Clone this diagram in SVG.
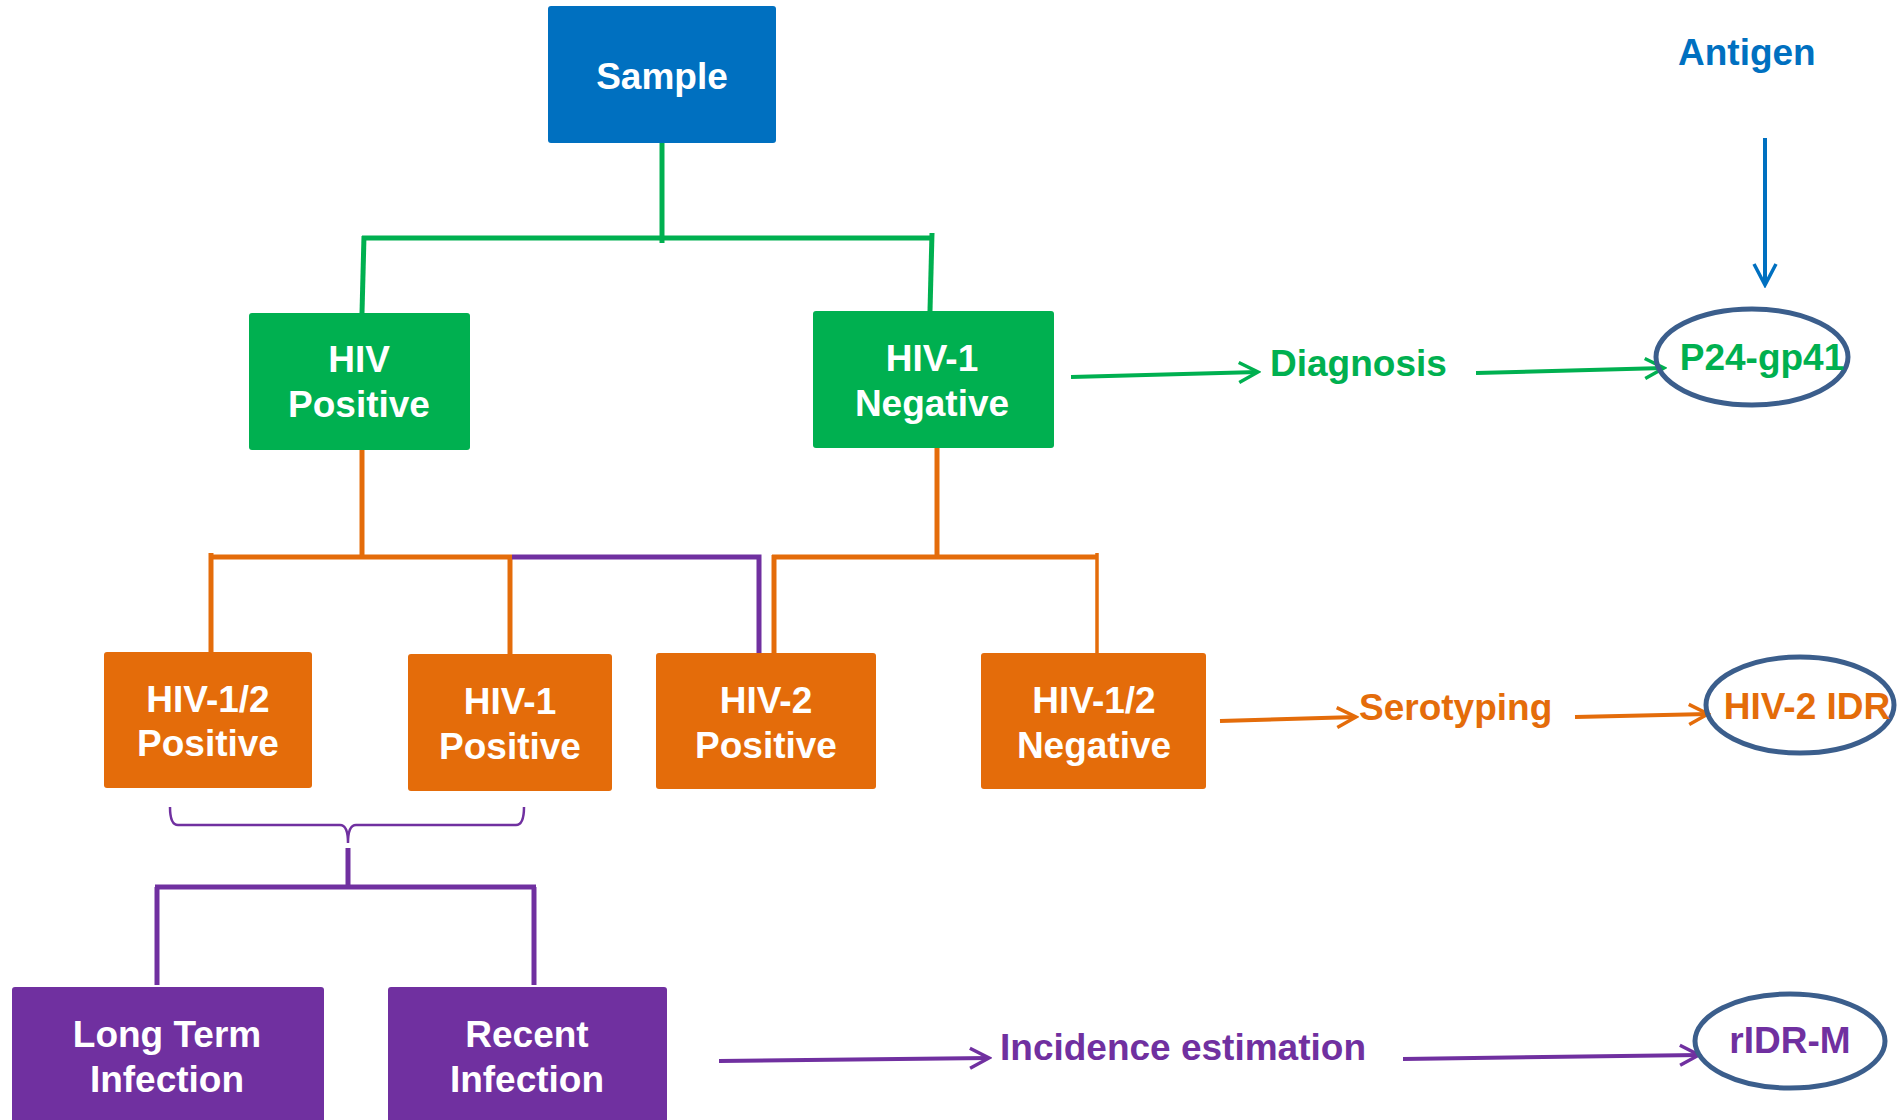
<svg xmlns="http://www.w3.org/2000/svg" width="1898" height="1120" viewBox="0 0 1898 1120">
<style>
text{font-family:"Liberation Sans",Arial,sans-serif;font-weight:bold;font-size:37px}
.lbl{fill:#fff;text-anchor:middle}
.box{rx:3;ry:3}
.blue{fill:#0070C0}.green{fill:#00B050}.orange{fill:#E46C0A}.purple{fill:#7030A0}
.ln{fill:none;stroke-width:5;stroke-linecap:butt}
.g{stroke:#00B050}.o{stroke:#E46C0A}.p{stroke:#7030A0}.b{stroke:#0070C0}
.arr{fill:none;stroke-width:4}
.ell{fill:none;stroke:#3B5E8C;stroke-width:5}
</style>
<defs>
<marker id="mg" viewBox="0 0 24 24" refX="21" refY="12" markerWidth="24" markerHeight="24" markerUnits="userSpaceOnUse" orient="auto"><path d="M2,2 L21,12 L2,22" fill="none" stroke="#00B050" stroke-width="3.5"/></marker>
<marker id="mo" viewBox="0 0 24 24" refX="21" refY="12" markerWidth="24" markerHeight="24" markerUnits="userSpaceOnUse" orient="auto"><path d="M2,2 L21,12 L2,22" fill="none" stroke="#E46C0A" stroke-width="3.5"/></marker>
<marker id="mp" viewBox="0 0 24 24" refX="21" refY="12" markerWidth="24" markerHeight="24" markerUnits="userSpaceOnUse" orient="auto"><path d="M2,2 L21,12 L2,22" fill="none" stroke="#7030A0" stroke-width="3.5"/></marker>
<marker id="mb" viewBox="0 0 26 26" refX="23" refY="13" markerWidth="26" markerHeight="26" markerUnits="userSpaceOnUse" orient="auto"><path d="M2,2 L23,13 L2,24" fill="none" stroke="#0070C0" stroke-width="3.5"/></marker>
</defs>
<rect width="1898" height="1120" fill="#fff"/>

<g id="connectors">
  <path class="ln g" d="M662,143 V243"/>
  <path class="ln g" d="M362,238 H934"/>
  <path class="ln g" d="M364,236 L362,313"/>
  <path class="ln g" d="M932,233 L930,311"/>
  <path class="ln o" d="M362,450 V559"/>
  <path class="ln o" d="M209,557 H512"/>
  <path class="ln o" d="M211,553 V652"/>
  <path class="ln o" d="M510,557 V654"/>
  <path class="ln p" d="M512,557 H759 V655"/>
  <path class="ln o" d="M937,448 V557"/>
  <path class="ln o" d="M772,557 H1098"/>
  <path class="ln o" d="M774,555 V653"/>
  <path class="o" stroke-width="3.5" fill="none" d="M1097,553 V653"/>
  <path class="p" fill="none" stroke-width="2.5" d="M170,807 Q170,825 178,825 H340 Q348,825 348,843 Q348,825 356,825 H516 Q524,825 524,807"/>
  <path class="ln p" d="M348,848 V889"/>
  <path class="ln p" d="M155,887 H536"/>
  <path class="ln p" d="M157,887 V985"/>
  <path class="ln p" d="M534,887 V985"/>
  <path class="arr g" d="M1071,377 L1258,372" marker-end="url(#mg)"/>
  <path class="arr g" d="M1476,373 L1664,368" marker-end="url(#mg)"/>
  <path class="arr o" d="M1220,721 L1356,717" marker-end="url(#mo)"/>
  <path class="arr o" d="M1575,717 L1708,714" marker-end="url(#mo)"/>
  <path class="arr p" d="M719,1061 L989,1058" marker-end="url(#mp)"/>
  <path class="arr p" d="M1403,1059 L1699,1055" marker-end="url(#mp)"/>
  <path class="arr b" d="M1765,138 L1765,285" marker-end="url(#mb)"/>
</g>

<g id="sample"><rect class="box blue" x="548" y="6" width="228" height="137"/><text class="lbl" x="662" y="89">Sample</text></g>
<g id="hiv-positive"><rect class="box green" x="249" y="313" width="221" height="137"/><text class="lbl" x="359" y="372">HIV</text><text class="lbl" x="359" y="417">Positive</text></g>
<g id="hiv1-negative"><rect class="box green" x="813" y="311" width="241" height="137"/><text class="lbl" x="932" y="371">HIV-1</text><text class="lbl" x="932" y="416">Negative</text></g>
<g id="hiv12-positive"><rect class="box orange" x="104" y="652" width="208" height="136"/><text class="lbl" x="208" y="712">HIV-1/2</text><text class="lbl" x="208" y="756">Positive</text></g>
<g id="hiv1-positive"><rect class="box orange" x="408" y="654" width="204" height="137"/><text class="lbl" x="510" y="714">HIV-1</text><text class="lbl" x="510" y="759">Positive</text></g>
<g id="hiv2-positive"><rect class="box orange" x="656" y="653" width="220" height="136"/><text class="lbl" x="766" y="713">HIV-2</text><text class="lbl" x="766" y="758">Positive</text></g>
<g id="hiv12-negative"><rect class="box orange" x="981" y="653" width="225" height="136"/><text class="lbl" x="1094" y="713">HIV-1/2</text><text class="lbl" x="1094" y="758">Negative</text></g>
<g id="long-term"><rect class="box purple" x="12" y="987" width="312" height="140"/><text class="lbl" x="167" y="1047">Long Term</text><text class="lbl" x="167" y="1092">Infection</text></g>
<g id="recent"><rect class="box purple" x="388" y="987" width="279" height="140"/><text class="lbl" x="527" y="1047">Recent</text><text class="lbl" x="527" y="1092">Infection</text></g>

<g id="antigen"><text x="1678" y="65" fill="#0070C0">Antigen</text></g>
<g id="diagnosis"><text x="1270" y="376" fill="#00B050">Diagnosis</text></g>
<g id="serotyping"><text x="1359" y="720" fill="#E46C0A">Serotyping</text></g>
<g id="incidence"><text x="1000" y="1060" fill="#7030A0">Incidence estimation</text></g>
<g id="p24"><ellipse class="ell" cx="1752" cy="357" rx="96" ry="48"/><text x="1762" y="370" fill="#00B050" text-anchor="middle">P24-gp41</text></g>
<g id="hiv2idr"><ellipse class="ell" cx="1800" cy="705" rx="94" ry="48"/><text x="1807" y="719" fill="#E46C0A" text-anchor="middle">HIV-2 IDR</text></g>
<g id="ridrm"><ellipse class="ell" cx="1790" cy="1041" rx="95" ry="47"/><text x="1790" y="1053" fill="#7030A0" text-anchor="middle">rIDR-M</text></g>
</svg>
